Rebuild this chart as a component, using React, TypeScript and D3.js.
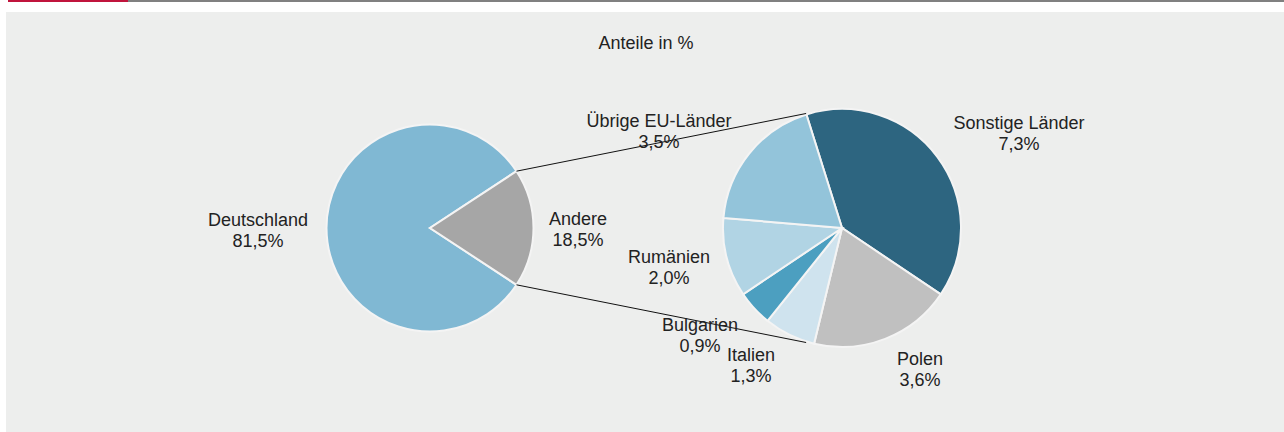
import React from "react";
import * as d3 from "d3";

// ---- data ----
const mainCategories = ["Deutschland", "Andere"];
const mainValues = [81.5, 18.5];
const mainLabels = ["81,5%", "18,5%"];

const detailCategories = ["Sonstige Länder", "Polen", "Italien", "Bulgarien", "Rumänien", "Übrige EU-Länder"];
const detailValues = [7.3, 3.6, 1.3, 0.9, 2.0, 3.5];
const detailLabels = ["7,3%", "3,6%", "1,3%", "0,9%", "2,0%", "3,5%"];

const titleText = "Anteile in %";

// ---- styles / layout ----
const W = 1284;
const H = 432;
const mainColors = ["#80b8d3", "#a6a6a6"];
const detailColors = ["#2d6580", "#c0c0c0", "#cfe3ee", "#4c9fc0", "#b1d4e4", "#93c4da"];
const FONT = "'Liberation Sans', Arial, Helvetica, sans-serif";

const mainCenter = { x: 430, y: 228, r: 103.5 };
const detailCenter = { x: 842, y: 228, r: 119 };
const detailStartDeg = -17.4;

// label anchor offsets (center x, first baseline) relative to pie centers
const mainLabelOffsets: Record<string, [number, number]> = {
  Deutschland: [-172, -2],
  Andere: [148, -3],
};
const detailLabelOffsets: Record<string, [number, number]> = {
  "Sonstige Länder": [177, -99],
  Polen: [78, 137],
  Italien: [-91, 133],
  Bulgarien: [-142, 103],
  "Rumänien": [-173, 35],
  "Übrige EU-Länder": [-183, -101],
};

export default function App() {
  const rad = Math.PI / 180;

  // main pie: "Andere" centered at 3 o'clock
  const andereAngle = (mainValues[1] / d3.sum(mainValues)) * 2 * Math.PI;
  const mainPie = d3
    .pie<number>()
    .sort(null)
    .value((d) => d)
    .startAngle(Math.PI / 2 + andereAngle / 2)
    .endAngle(Math.PI / 2 + andereAngle / 2 + 2 * Math.PI);
  const mainArcs = mainPie(mainValues);
  const mainArc = d3.arc<d3.PieArcDatum<number>>().innerRadius(0).outerRadius(mainCenter.r);

  const detailPie = d3
    .pie<number>()
    .sort(null)
    .value((d) => d)
    .startAngle(detailStartDeg * rad)
    .endAngle(detailStartDeg * rad + 2 * Math.PI);
  const detailArcs = detailPie(detailValues);
  const detailArc = d3.arc<d3.PieArcDatum<number>>().innerRadius(0).outerRadius(detailCenter.r);

  // connector lines: from edges of "Andere" slice to the secondary pie
  const a0 = mainArcs[1].startAngle;
  const a1 = mainArcs[1].endAngle;
  const polar = (c: { x: number; y: number }, r: number, a: number) => ({
    x: c.x + r * Math.sin(a),
    y: c.y - r * Math.cos(a),
  });
  const topLeft = polar(mainCenter, mainCenter.r, a0);
  const botLeft = polar(mainCenter, mainCenter.r, a1);
  const topRight = polar(detailCenter, detailCenter.r + 1, detailStartDeg * rad);
  const botRight = polar(detailCenter, detailCenter.r + 1, Math.PI - detailStartDeg * rad);

  const textProps = {
    fontFamily: FONT,
    fontSize: 18,
    fill: "#222222",
    textAnchor: "middle" as const,
  };
  const lineGap = 20.5;

  return (
    <div style={{ position: "fixed", left: 0, top: 0, width: W, height: H }}>
      <svg width={W} height={H} style={{ display: "block" }}>
        <rect x={0} y={0} width={W} height={H} fill="#ffffff" />
        <rect x={8} y={0} width={120} height={2} fill="#c0143c" />
        <rect x={128} y={0} width={W - 128} height={2} fill="#808080" />
        <rect x={6} y={12} width={W - 6} height={H - 12} fill="#edeeed" />

        <text x={646} y={49} {...textProps}>
          {titleText}
        </text>

        <g transform={`translate(${mainCenter.x},${mainCenter.y})`}>
          {mainArcs.map((a, i) => (
            <path key={i} d={mainArc(a) || ""} fill={mainColors[i]} stroke="#f4f4f4" strokeWidth={2} />
          ))}
        </g>
        <g transform={`translate(${detailCenter.x},${detailCenter.y})`}>
          {detailArcs.map((a, i) => (
            <path key={i} d={detailArc(a) || ""} fill={detailColors[i]} stroke="#f4f4f4" strokeWidth={2} />
          ))}
        </g>

        <line x1={topLeft.x} y1={topLeft.y} x2={topRight.x} y2={topRight.y} stroke="#111" strokeWidth={1} />
        <line x1={botLeft.x} y1={botLeft.y} x2={botRight.x} y2={botRight.y} stroke="#111" strokeWidth={1} />

        {mainCategories.map((c, i) => {
          const [dx, dy] = mainLabelOffsets[c];
          const x = mainCenter.x + dx;
          const y = mainCenter.y + dy;
          return (
            <g key={c}>
              <text x={x} y={y} {...textProps}>{c}</text>
              <text x={x} y={y + lineGap} {...textProps}>{mainLabels[i]}</text>
            </g>
          );
        })}
        {detailCategories.map((c, i) => {
          const [dx, dy] = detailLabelOffsets[c];
          const x = detailCenter.x + dx;
          const y = detailCenter.y + dy;
          return (
            <g key={c}>
              <text x={x} y={y} {...textProps}>{c}</text>
              <text x={x} y={y + lineGap} {...textProps}>{detailLabels[i]}</text>
            </g>
          );
        })}
      </svg>
    </div>
  );
}
